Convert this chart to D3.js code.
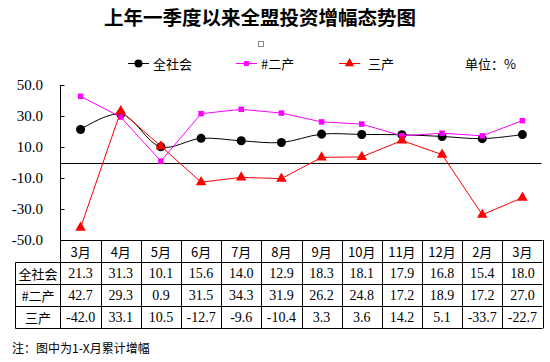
<!DOCTYPE html>
<html><head><meta charset="utf-8">
<script src="https://cdn.jsdelivr.net/npm/d3@7"></script>
<style>body{margin:0;background:#fff}svg{display:block}</style>
</head><body>
<script>
const months = ["3月","4月","5月","6月","7月","8月","9月","10月","11月","12月","2月","3月"];
const seriesNames = ["全社会","#二产","三产"];
const quanshehui = [21.3,31.3,10.1,15.6,14.0,12.9,18.3,18.1,17.9,16.8,15.4,18.0];
const erchan = [42.7,29.3,0.9,31.5,34.3,31.9,26.2,24.8,17.2,18.9,17.2,27.0];
const sanchan = [-42.0,33.1,10.5,-12.7,-9.6,-10.4,3.3,3.6,14.2,5.1,-33.7,-22.7];
const yTicks = [50,30,10,-10,-30,-50];

const W=550,H=362;
const svg=d3.select("body").append("svg").attr("width",W).attr("height",H);
const serif="'Liberation Serif','Times New Roman',serif";
const cjk="'Noto Sans CJK SC','Noto Sans',sans-serif";
const fmt=v=>d3.format(".1f")(v).replace("\u2212","-");

const x=d3.scaleBand().domain(d3.range(months.length)).range([60.5,542.5]);
const y=d3.scaleLinear().domain([-50,50]).range([240,85]);
const cx=i=>x(i)+x.bandwidth()/2;

// title
svg.append("text").attr("x",260).attr("y",16).attr("text-anchor","middle")
  .attr("dominant-baseline","central").attr("font-family",cjk).attr("font-weight","bold")
  .attr("font-size",19.5).attr("fill","#000").text("上年一季度以来全盟投资增幅态势图");
svg.append("rect").attr("x",258.5).attr("y",41.5).attr("width",5).attr("height",5)
  .attr("fill","none").attr("stroke","#888");

// legend
const series=[
  {name:seriesNames[0],data:quanshehui,color:"#000000",shape:d3.symbolCircle,size:64,curve:d3.curveCatmullRom.alpha(0.5)},
  {name:seriesNames[1],data:erchan,color:"#FF00FF",shape:d3.symbolSquare,size:30,curve:d3.curveLinear},
  {name:seriesNames[2],data:sanchan,color:"#FF0000",shape:d3.symbolTriangle,size:48,curve:d3.curveLinear}
];
const legX=[128,236,339];
const legTX=[153,261,368];
series.forEach((s,k)=>{
  const g=svg.append("g");
  g.append("line").attr("x1",legX[k]).attr("x2",legX[k]+21).attr("y1",63.5).attr("y2",63.5)
   .attr("stroke",s.color).attr("stroke-width",1);
  g.append("path").attr("d",d3.symbol().type(s.shape).size(s.size*0.8)())
   .attr("transform",`translate(${legX[k]+10.5},63.5)`).attr("fill",s.color);
  g.append("text").attr("x",legTX[k]).attr("y",63.5).attr("dominant-baseline","central")
   .attr("font-family",cjk).attr("font-size",13).attr("fill","#000").text(s.name);
});
svg.append("text").attr("x",465).attr("y",63.5).attr("dominant-baseline","central")
  .attr("font-family",cjk).attr("font-size",13).attr("fill","#000").text("单位：%");

// y axis
svg.append("line").attr("x1",60.5).attr("x2",60.5).attr("y1",85).attr("y2",240).attr("stroke","#000");
yTicks.forEach(t=>{
  svg.append("line").attr("x1",60.5).attr("x2",64.5).attr("y1",Math.round(y(t))+0.5).attr("y2",Math.round(y(t))+0.5).attr("stroke","#000");
  svg.append("text").attr("x",43).attr("y",y(t)).attr("text-anchor","end").attr("dominant-baseline","central")
   .attr("font-family",serif).attr("font-size",15).attr("fill","#000").text(fmt(t));
});
// zero line
svg.append("line").attr("x1",60.5).attr("x2",541.5).attr("y1",Math.round(y(0))+0.5).attr("y2",Math.round(y(0))+0.5).attr("stroke","#000");

// series
series.forEach(s=>{
  const line=d3.line().x((d,i)=>cx(i)).y(d=>y(d)).curve(s.curve);
  svg.append("path").attr("d",line(s.data)).attr("fill","none").attr("stroke",s.color).attr("stroke-width",1);
  svg.selectAll(null).data(s.data).enter().append("path")
   .attr("d",d3.symbol().type(s.shape).size(s.size)())
   .attr("transform",(d,i)=>`translate(${cx(i)},${y(d)})`).attr("fill",s.color);
});

// table
const rowY=[240,262.5,284.5,306.5,328.5];
const tL=15.5, tR=542.5;
const tg=svg.append("g").attr("stroke","#000").attr("stroke-width",1);
tg.append("line").attr("x1",60.5).attr("x2",tR).attr("y1",240.5).attr("y2",240.5);
[262.5,284.5,306.5,328.5].forEach(yy=>tg.append("line").attr("x1",tL).attr("x2",tR).attr("y1",yy).attr("y2",yy));
tg.append("line").attr("x1",tL).attr("x2",tL).attr("y1",262.5).attr("y2",328.5);
tg.append("line").attr("x1",60.5).attr("x2",60.5).attr("y1",240).attr("y2",328.5);
months.forEach((m,i)=>{
  const xr=Math.round(x(i)+x.bandwidth())+0.5;
  tg.append("line").attr("x1",xr).attr("x2",xr).attr("y1",240).attr("y2",328.5);
});
months.forEach((m,i)=>{
  svg.append("text").attr("x",cx(i)).attr("y",251.5).attr("text-anchor","middle").attr("dominant-baseline","central")
   .attr("font-family",cjk).attr("font-size",13).attr("fill","#000").text(m);
});
const rows=[quanshehui,erchan,sanchan];
rows.forEach((r,k)=>{
  const yc=(rowY[k+1]+rowY[k+2])/2;
  svg.append("text").attr("x",38).attr("y",yc).attr("text-anchor","middle").attr("dominant-baseline","central")
   .attr("font-family",cjk).attr("font-size",13).attr("fill","#000").text(seriesNames[k]);
  r.forEach((v,i)=>{
    svg.append("text").attr("x",cx(i)).attr("y",yc).attr("text-anchor","middle").attr("dominant-baseline","central")
     .attr("font-family",serif).attr("font-size",14).attr("fill","#000").text(fmt(v));
  });
});

svg.append("text").attr("x",12).attr("y",347).attr("dominant-baseline","central")
  .attr("font-family",cjk).attr("font-size",12).attr("fill","#000").text("注：图中为1-X月累计增幅");
</script>
</body></html>
